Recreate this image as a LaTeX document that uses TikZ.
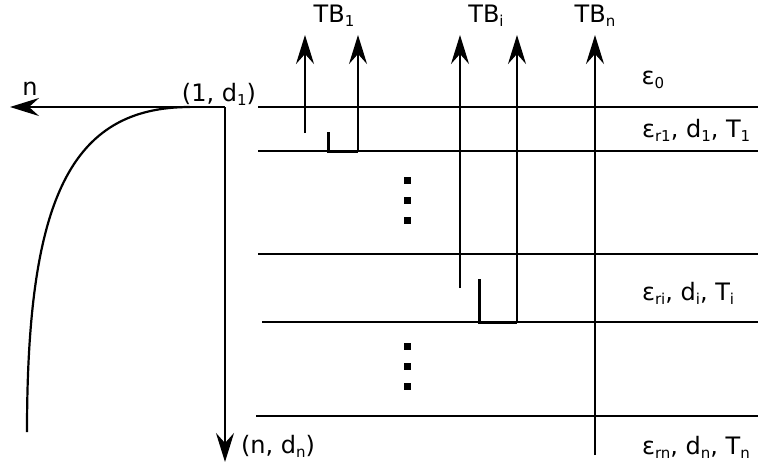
\documentclass[tikz,border=0pt]{standalone}
\usepackage{fontspec}
\setmainfont{DejaVu Sans}
\usetikzlibrary{arrows.meta}
\newcommand\sbx[1]{\raisebox{-0.3ex}{\fontsize{15}{15}\selectfont #1}}
\begin{document}
\begin{tikzpicture}[x=1pt,y=-1pt, line width=2.2pt,
  arr/.style={-{Stealth[length=29pt,width=18pt,inset=10pt]}},
  lbl/.style={font=\fontsize{24}{24}\selectfont, inner sep=0pt},
  ubar/.style={line width=3pt},
  dotsq/.style={fill=black, minimum size=7pt, inner sep=0pt}]
\useasboundingbox (0,0) rectangle (758,469);
% axes
\coordinate (o) at (225,107);
\coordinate (nend) at (10,107);
\coordinate (dend) at (225,462);
\draw[arr] (o) -- (nend);
\draw[arr] (o) -- (dend);
\coordinate (c0) at (27,432);
\coordinate (c1) at (190,107);
\draw (c0) .. controls (27,200) and (70,107) .. (c1);
\node[lbl] (ln) at (30,89) {n};
\node[lbl] (l1) at (219,94) {(1, d\sbx{1})};
\node[lbl] (lnd) at (278,446) {(n, d\sbx{n})};
% layers
\coordinate (a0) at (258,107); \coordinate (b0) at (758,107);
\coordinate (a1) at (258,151); \coordinate (b1) at (758,151);
\coordinate (a2) at (258,254); \coordinate (b2) at (758,254);
\coordinate (a3) at (262,322); \coordinate (b3) at (758,322);
\coordinate (a4) at (256,416); \coordinate (b4) at (758,416);
\foreach \i in {0,...,4} \draw (a\i) -- (b\i);
% TB1
\coordinate (t1a) at (305,133); \coordinate (t1at) at (305,35);
\coordinate (t1b) at (358,151); \coordinate (t1bt) at (358,35);
\coordinate (u1) at (328,132); \coordinate (u1b) at (328,151);
\draw[arr] (t1a) -- (t1at);
\draw[arr] (t1b) -- (t1bt);
\draw[ubar] (u1) -- (u1b) -- (t1b);
% TBi
\coordinate (tia) at (460,288); \coordinate (tiat) at (460,35);
\coordinate (tib) at (517,322); \coordinate (tibt) at (517,35);
\coordinate (ui) at (479,279); \coordinate (uib) at (479,322);
\draw[arr] (tia) -- (tiat);
\draw[arr] (tib) -- (tibt);
\draw[ubar] (ui) -- (uib) -- (tib);
% TBn
\coordinate (tn) at (595,455); \coordinate (tnt) at (595,35);
\draw[arr] (tn) -- (tnt);
% labels
\node[lbl] (TB1) at (334,16) {TB\sbx{1}};
\node[lbl] (TBi) at (486,16) {TB\sbx{i}};
\node[lbl] (TBn) at (595,16) {TB\sbx{n}};
\node[lbl] (e0) at (653,80) {ε\sbx{0}};
\node[lbl, anchor=west] (e1) at (641,130) {ε\sbx{r1}, d\sbx{1}, T\sbx{1}};
\node[lbl, anchor=west] (ei) at (641,293) {ε\sbx{ri}, d\sbx{i}, T\sbx{i}};
\node[lbl, anchor=west] (en) at (641,447) {ε\sbx{rn}, d\sbx{n}, T\sbx{n}};
% dots
\foreach \y [count=\k] in {180,200,220,346,366,386}
  \node[dotsq] (dot\k) at (407,\y) {};
\end{tikzpicture}
\end{document}
